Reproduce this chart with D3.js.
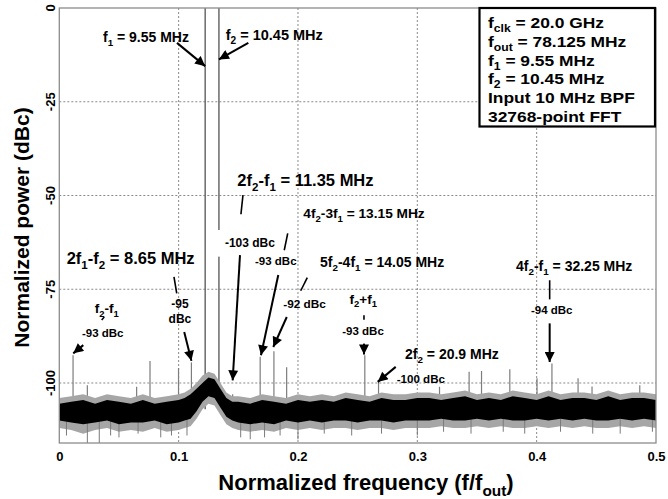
<!DOCTYPE html>
<html lang="en">
<head>
<meta charset="utf-8">
<title>Two-tone output spectrum</title>
<script src="https://d3js.org/d3.v7.min.js"></script>
<style>
  body { margin: 0; background: #fff; }
  svg text { font-family: "Liberation Sans", Arial, sans-serif; font-weight: bold; fill: #000; }
</style>
</head>
<body>
<script>
// ---------- values ----------
var xTicks = [0, 0.1, 0.2, 0.3, 0.4, 0.5];
var yTicks = [0, -25, -50, -75, -100];

// noise floor envelope (dBc) at these normalized frequencies
var floorFreq = [0, 0.01, 0.02, 0.03, 0.04, 0.05, 0.06, 0.07, 0.08, 0.09, 0.10,
  0.105, 0.11, 0.115, 0.12, 0.125, 0.13, 0.135, 0.14, 0.145,
  0.15, 0.16, 0.17, 0.18, 0.19, 0.20, 0.21, 0.22, 0.23, 0.24, 0.25, 0.26, 0.27, 0.28, 0.29, 0.30,
  0.31, 0.32, 0.33, 0.34, 0.35, 0.36, 0.37, 0.38, 0.39, 0.40, 0.41, 0.42, 0.43, 0.44, 0.45, 0.46,
  0.47, 0.48, 0.49, 0.50];
var floorCoreTop = [-105.5, -105, -104.5, -105.5, -104.5, -105, -105.5, -104.5, -105.5, -105, -104.5,
  -104, -103, -101.5, -100, -98.5, -99, -101.5, -104, -105,
  -105, -105.5, -104.5, -105, -105.5, -104.5, -105, -104.5, -105, -104, -104.5, -105, -104, -104.5, -104.5, -104,
  -104, -104.5, -104, -103.5, -104.5, -104, -104.5, -103.5, -104, -104.5, -103.5, -104.5, -104, -104, -104.5, -103.5,
  -104.5, -104, -104, -104.5];
var floorCoreBottom = [-110, -110.5, -111, -110.5, -110, -111, -110.5, -110.5, -110, -111, -110.5,
  -110, -109.5, -107.5, -105, -103.5, -104, -106.5, -109, -110,
  -110.5, -111, -110.5, -111, -110, -110.5, -110, -110.5, -110, -110, -110.5, -110, -110, -110.5, -110, -110,
  -110, -109.5, -110, -110, -109.5, -110, -109.5, -110, -110, -109.5, -110, -109.5, -110, -109.5, -110, -110,
  -109.5, -110, -109.5, -110];
var floorPeak = [-104, -103.5, -103, -104, -103, -103.5, -104, -103, -104, -103.5, -103,
  -102.5, -101.5, -100, -98, -97, -97.5, -100, -102.5, -103.5,
  -103.5, -104, -103, -103.5, -104, -103, -103.5, -103, -103.5, -102.5, -103, -103.5, -102.5, -103, -103, -102.5,
  -102.5, -103, -102.5, -102, -103, -102.5, -103, -102, -102.5, -103, -102, -103, -102.5, -102.5, -103, -102,
  -103, -102.5, -102.5, -103];
var floorDip = [-112, -112.5, -113.5, -112.5, -112, -113, -112.5, -113, -112, -113, -112.5,
  -112, -111.5, -109.5, -107, -105.5, -106, -108.5, -111, -112,
  -112.5, -113, -112.5, -113, -112, -112.5, -112, -112.5, -112, -112, -112.5, -112, -112, -112.5, -112, -112,
  -112, -111.5, -112, -112, -111.5, -112, -111.5, -112, -112, -111.5, -112, -111.5, -112, -111.5, -112, -112,
  -111.5, -112, -111.5, -112];

// narrow downward excursions below the floor
var dipFreq = [0.006, 0.0235, 0.0335, 0.043, 0.05, 0.066, 0.085, 0.094, 0.107, 0.152, 0.16, 0.172,
  0.185, 0.2, 0.222, 0.245, 0.27, 0.3, 0.322, 0.345, 0.372, 0.39, 0.42, 0.447, 0.47, 0.497];
var dipLevel = [-114, -116, -116, -114, -114.5, -113.5, -114.5, -114, -114, -114.5, -115, -114.5,
  -114, -115, -113.5, -114, -113.5, -114, -113, -113.5, -113, -113.5, -113, -113.5, -113.5, -113];

// tones and spurs (normalized frequency, dBc)
var spurFreq = [0.01152, 0.0235, 0.0648, 0.076, 0.0999, 0.1107, 0.12224, 0.13376, 0.14528,
  0.16832, 0.17984, 0.1905, 0.256, 0.2675, 0.3186, 0.3434, 0.3538, 0.3775, 0.4003,
  0.4128, 0.4347, 0.4464, 0.4864];
var spurLevel = [-92.6, -100.6, -101, -94.1, -96, -94.5, 0, 0, -103,
  -93, -91.5, -95.8, -92.6, -99.7, -101, -97, -96.8, -96.3, -98.7,
  -94.8, -98.7, -100.9, -100.6];

var legendLines = ["f_{clk} = 20.0 GHz", "f_{out} = 78.125 MHz", "f_1 = 9.55 MHz",
  "f_2 = 10.45 MHz", "Input 10 MHz BPF", "32768-point FFT"];

// ---------- layout ----------
var W = 668, H = 499;
var plot = {left: 59.3, right: 656, top: 8, bottom: 443};

var svg = d3.select("body").append("svg")
  .attr("width", W).attr("height", H);

var x = d3.scaleLinear().domain([0, 0.5]).range([plot.left, plot.right]);
var y = d3.scaleLinear().domain([-116, 0]).range([plot.bottom, plot.top]);

// text with _sub / _{sub} parts
function richText(sel, str, size) {
  var re = /_\{([^}]*)\}|_(.)|([^_]+)/g, m, shifted = false;
  while ((m = re.exec(str)) !== null) {
    if (m[3] !== undefined) {
      sel.append("tspan").attr("dy", shifted ? -0.28 * size : 0).text(m[3]);
      shifted = false;
    } else {
      sel.append("tspan").attr("font-size", size * 0.7)
        .attr("dy", shifted ? 0 : 0.28 * size).text(m[1] !== undefined ? m[1] : m[2]);
      shifted = true;
    }
  }
  return sel;
}

// grid
var grid = svg.append("g");
grid.selectAll("line.gx").data(xTicks.slice(1, -1)).enter().append("line")
  .attr("x1", d => x(d)).attr("x2", d => x(d))
  .attr("y1", plot.top).attr("y2", plot.bottom)
  .attr("stroke", "#8a8a8a").attr("stroke-width", 1).attr("stroke-dasharray", "2,2");
grid.selectAll("line.gy").data(yTicks.slice(1)).enter().append("line")
  .attr("y1", d => y(d)).attr("y2", d => y(d))
  .attr("x1", plot.left).attr("x2", plot.right)
  .attr("stroke", "#8a8a8a").attr("stroke-width", 1).attr("stroke-dasharray", "2,2");

// spurs and tones
svg.append("g").selectAll("line").data(spurFreq).enter().append("line")
  .attr("x1", d => x(d)).attr("x2", d => x(d))
  .attr("y1", y(-107)).attr("y2", (d, i) => y(spurLevel[i]))
  .attr("stroke", (d, i) => spurLevel[i] > -50 ? "#6a6a6a" : "#7d7d7d")
  .attr("stroke-width", (d, i) => spurLevel[i] > -50 ? 1.5 : 1.2);

// noise floor: light fringe, then downward excursions, then dense core
var outer = d3.area().x((d, i) => x(floorFreq[i]))
  .y0((d, i) => y(floorDip[i])).y1((d, i) => y(floorPeak[i]));
var core = d3.area().x((d, i) => x(floorFreq[i]))
  .y0((d, i) => y(floorCoreBottom[i])).y1((d, i) => y(floorCoreTop[i]));
svg.append("path").datum(floorFreq).attr("d", outer).attr("fill", "#a6a6a6");

svg.append("g").selectAll("line").data(dipFreq).enter().append("line")
  .attr("x1", d => x(d)).attr("x2", d => x(d))
  .attr("y1", y(-108)).attr("y2", (d, i) => y(dipLevel[i]))
  .attr("stroke", "#7a7a7a").attr("stroke-width", 1);

svg.append("path").datum(floorFreq).attr("d", core).attr("fill", "#000");

// frame
svg.append("rect").attr("x", plot.left).attr("y", plot.top)
  .attr("width", plot.right - plot.left).attr("height", plot.bottom - plot.top)
  .attr("fill", "none").attr("stroke", "#8c8c8c").attr("stroke-width", 1.3);

// axes
var xAxis = d3.axisBottom(x).tickValues(xTicks).tickSize(0).tickPadding(9)
  .tickFormat(d => d === 0 ? "0" : d3.format(".1f")(d));
var gx = svg.append("g").attr("transform", `translate(0, ${plot.bottom})`).call(xAxis);
gx.select(".domain").remove();
gx.selectAll("text").attr("font-size", 13).attr("font-family", null);

yTicks.forEach(function (v) {
  svg.append("text")
    .attr("transform", `translate(55, ${y(v)}) rotate(-90)`)
    .attr("text-anchor", "middle").attr("font-size", 13)
    .text(v);
});

richText(svg.append("text")
  .attr("x", 366).attr("y", 490).attr("text-anchor", "middle")
  .attr("font-size", 22), "Normalized frequency (f/f_{out})", 22);
svg.append("text")
  .attr("transform", `translate(29, ${(plot.top + plot.bottom) / 2 + 2}) rotate(-90)`)
  .attr("text-anchor", "middle").attr("font-size", 21)
  .text("Normalized power (dBc)");

// legend box
var lg = svg.append("g");
lg.append("rect").attr("x", 479.5).attr("y", 8).attr("width", 175.5).attr("height", 118.5)
  .attr("fill", "#fff").attr("stroke", "#000").attr("stroke-width", 2.2);
legendLines.forEach(function (s, i) {
  richText(lg.append("text")
    .attr("transform", `translate(488, ${28.3 + i * 18.7}) scale(1.2, 1)`)
    .attr("font-size", 14.5), s, 14.5);
});

// annotations (positions in data units)
var defs = svg.append("defs");
defs.append("marker").attr("id", "head")
  .attr("viewBox", "0 0 10 10").attr("refX", 10).attr("refY", 5)
  .attr("markerUnits", "userSpaceOnUse").attr("markerWidth", 11).attr("markerHeight", 10)
  .attr("orient", "auto")
  .append("path").attr("d", "M0,0 L10,5 L0,10 Z").attr("fill", "#000");

var masks = [
  {f0: 0.1318, f1: 0.1832, db0: -59.2, db1: -66.3}
];
masks.forEach(function (m) {
  svg.append("rect").attr("x", x(m.f0)).attr("y", y(m.db0))
    .attr("width", x(m.f1) - x(m.f0)).attr("height", y(m.db1) - y(m.db0))
    .attr("fill", "#fff");
});

var notes = [
  {t: "f_1 = 9.55 MHz", f: 0.0366, db: -9, size: 14, anchor: "start"},
  {t: "f_2 = 10.45 MHz", f: 0.1394, db: -8.5, size: 14.5, anchor: "start"},
  {t: "2f_2-f_1 = 11.35 MHz", f: 0.1492, db: -47.5, size: 16.5, anchor: "start"},
  {t: "-103 dBc", f: 0.1388, db: -63.8, size: 12, anchor: "start"},
  {t: "2f_1-f_2 = 8.65 MHz", f: 0.0062, db: -68.3, size: 16.5, anchor: "start"},
  {t: "-95", f: 0.1011, db: -80.0, size: 12, anchor: "middle"},
  {t: "dBc", f: 0.1011, db: -84.0, size: 12, anchor: "middle"},
  {t: "f_2-f_1", f: 0.0397, db: -81.3, size: 13.5, anchor: "middle"},
  {t: "-93 dBc", f: 0.0364, db: -87.7, size: 11.5, anchor: "middle"},
  {t: "4f_2-3f_1 = 13.15 MHz", f: 0.2045, db: -56.1, size: 13.7, anchor: "start"},
  {t: "-93 dBc", f: 0.164, db: -68.6, size: 11.5, anchor: "start"},
  {t: "5f_2-4f_1 = 14.05 MHz", f: 0.2185, db: -69.0, size: 14, anchor: "start"},
  {t: "-92 dBc", f: 0.1877, db: -80.1, size: 11.8, anchor: "start"},
  {t: "f_2+f_1", f: 0.2547, db: -78.8, size: 13.5, anchor: "middle"},
  {t: "-93 dBc", f: 0.2545, db: -87.1, size: 11.5, anchor: "middle"},
  {t: "2f_2 = 20.9 MHz", f: 0.2897, db: -93.5, size: 14, anchor: "start"},
  {t: "-100 dBc", f: 0.2827, db: -100, size: 11.6, anchor: "start"},
  {t: "4f_2-f_1 = 32.25 MHz", f: 0.3827, db: -70.1, size: 14, anchor: "start"},
  {t: "-94 dBc", f: 0.4126, db: -81.6, size: 11.5, anchor: "middle"}
];
var leaders = [
  [0.1539, -49.9, 0.1522, -55],
  [0.0961, -71.7, 0.0984, -76.1],
  [0.0377, -82.4, 0.0355, -83.2],
  [0.1914, -60.1, 0.1885, -64.6],
  [0.2078, -71.9, 0.2023, -75.4],
  [0.2553, -81.9, 0.2553, -83.1],
  [0.4109, -72.6, 0.4109, -77.7]
];
var arrows = [
  [0.0986, -9.3, 0.12224, -15.5],
  [0.1584, -9.3, 0.13376, -13.7],
  [0.1514, -65.9, 0.14528, -99.3],
  [0.1047, -86.4, 0.1107, -94.1],
  [0.0201, -89.9, 0.0117, -92.1],
  [0.1835, -71.2, 0.169, -92.6],
  [0.1906, -82.4, 0.1793, -90.4],
  [0.2553, -89.5, 0.2553, -92.4],
  [0.2819, -95.7, 0.2668, -99.7],
  [0.4109, -84.1, 0.4109, -94.4]
];

svg.append("g").selectAll("line").data(leaders).enter().append("line")
  .attr("x1", d => x(d[0])).attr("y1", d => y(d[1]))
  .attr("x2", d => x(d[2])).attr("y2", d => y(d[3]))
  .attr("stroke", "#000").attr("stroke-width", 1.6);
svg.append("g").selectAll("line").data(arrows).enter().append("line")
  .attr("x1", d => x(d[0])).attr("y1", d => y(d[1]))
  .attr("x2", d => x(d[2])).attr("y2", d => y(d[3]))
  .attr("stroke", "#000").attr("stroke-width", 2)
  .attr("marker-end", "url(#head)");

notes.forEach(function (n) {
  richText(svg.append("text")
    .attr("x", x(n.f)).attr("y", y(n.db))
    .attr("text-anchor", n.anchor).attr("font-size", n.size), n.t, n.size);
});
</script>
</body>
</html>
